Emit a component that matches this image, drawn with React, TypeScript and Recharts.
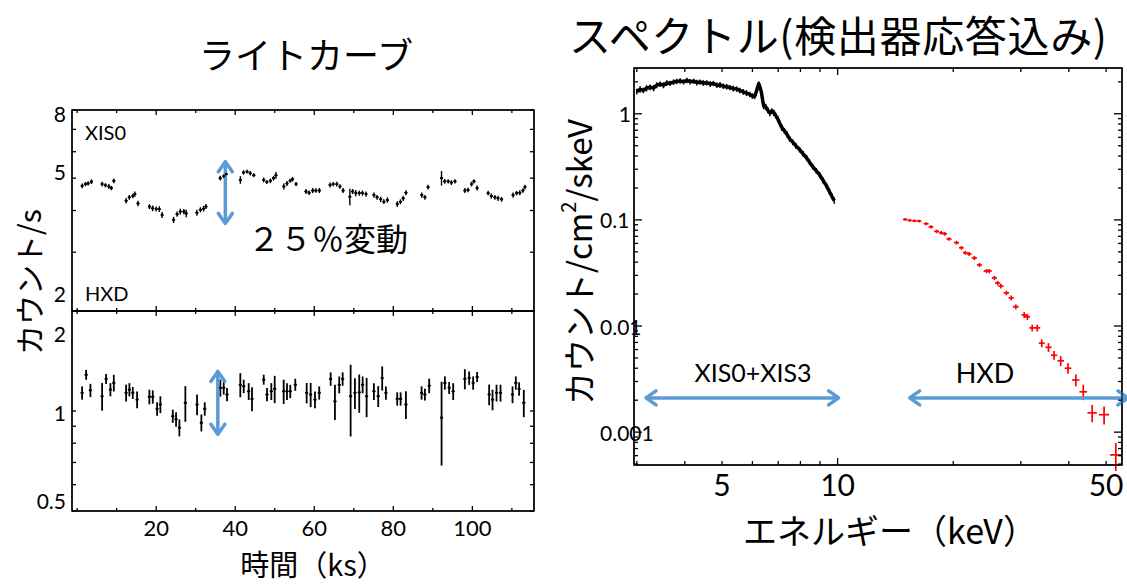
import React from 'react';
import { ComposedChart, Scatter, Line, XAxis, YAxis, ErrorBar, ReferenceLine, ReferenceArea } from 'recharts';

const LATIN = 'Lato, "Liberation Sans", sans-serif';
const CJK = '"Noto Sans CJK JP", "Noto Sans", sans-serif';
const BLUE = '#5b9bd5';

// ---------------- Light curve : XIS0 (counts/s) ----------------
const xisTime = [1.26, 2.1, 2.78, 3.62, 6.32, 7.16, 8.02, 8.67, 9.28, 12.4, 13.2, 14.1, 14.6, 15.4, 18.3, 19.1, 20.0, 20.8, 21.5, 24.4, 25.3, 26.1, 27.0, 27.6, 30.3, 31.2, 32.0, 32.6, 36.2, 37.1, 37.7, 41.3, 42.1, 43.0, 43.8, 44.7, 47.2, 48.0, 48.9, 49.7, 50.3, 52.3, 53.1, 53.9, 54.5, 55.4, 57.9, 58.7, 59.6, 60.4, 61.3, 64.0, 64.8, 65.7, 66.5, 67.3, 69.0, 69.7, 70.5, 71.4, 72.2, 73.1, 75.1, 75.9, 76.8, 77.6, 78.5, 81.0, 81.8, 82.5, 83.2, 87.2, 88.0, 88.8, 92.2, 93.0, 93.9, 94.7, 95.6, 98.1, 98.9, 99.8, 100.4, 101.2, 104.0, 104.8, 105.7, 106.5, 107.4, 110.3, 111.2, 112.0, 112.8, 113.3];
const xisRate = [4.74, 4.8, 4.82, 4.88, 4.8, 4.76, 4.72, 4.67, 4.91, 4.28, 4.38, 4.42, 4.48, 4.2, 4.11, 4.06, 4.04, 4.04, 3.88, 3.75, 3.9, 3.97, 3.97, 3.92, 3.94, 4.02, 4.05, 4.11, 5.0, 5.07, 5.14, 4.94, 5.2, 5.23, 5.17, 5.1, 4.94, 4.87, 4.91, 5.0, 5.1, 4.72, 4.82, 4.91, 4.96, 4.8, 4.56, 4.52, 4.59, 4.59, 4.59, 4.77, 4.8, 4.8, 4.72, 4.59, 4.4, 4.56, 4.51, 4.51, 4.51, 4.48, 4.45, 4.38, 4.32, 4.25, 4.3, 4.18, 4.25, 4.35, 4.52, 4.45, 4.38, 4.7, 5.0, 4.89, 4.89, 4.85, 4.89, 4.59, 4.61, 4.8, 4.89, 4.67, 4.51, 4.42, 4.38, 4.35, 4.32, 4.45, 4.51, 4.52, 4.59, 4.7];
const xisRateErr = [0.08, 0.07, 0.07, 0.08, 0.08, 0.07, 0.08, 0.07, 0.08, 0.08, 0.07, 0.07, 0.08, 0.08, 0.07, 0.08, 0.07, 0.08, 0.08, 0.08, 0.07, 0.08, 0.07, 0.1, 0.08, 0.07, 0.08, 0.07, 0.08, 0.07, 0.08, 0.13, 0.08, 0.07, 0.08, 0.07, 0.08, 0.07, 0.08, 0.08, 0.12, 0.1, 0.08, 0.07, 0.08, 0.07, 0.08, 0.07, 0.08, 0.07, 0.08, 0.08, 0.07, 0.08, 0.07, 0.08, 0.25, 0.08, 0.1, 0.08, 0.08, 0.08, 0.08, 0.07, 0.08, 0.07, 0.08, 0.08, 0.07, 0.08, 0.08, 0.08, 0.07, 0.08, 0.25, 0.08, 0.07, 0.08, 0.07, 0.08, 0.07, 0.08, 0.07, 0.08, 0.07, 0.08, 0.07, 0.08, 0.07, 0.08, 0.07, 0.08, 0.07, 0.08];
const xisBinHalf = [0.4];

// ---------------- Light curve : HXD (counts/s) ----------------
const hxdTime = [1.26, 2.28, 3.36, 6.32, 7.33, 8.42, 9.28, 12.39, 13.22, 14.08, 15.17, 18.28, 19.14, 20.23, 21.06, 24.2, 25.03, 25.87, 27.38, 30.34, 31.43, 32.29, 36.23, 37.09, 37.93, 41.29, 42.15, 43.41, 44.25, 47.21, 48.04, 49.13, 49.99, 52.26, 53.1, 53.93, 55.2, 58.08, 59.09, 60.18, 61.26, 64.15, 65.23, 66.32, 67.18, 69.2, 70.29, 71.38, 72.24, 73.25, 75.09, 76.18, 77.19, 78.13, 80.99, 81.85, 83.19, 87.16, 87.99, 89.08, 92.21, 93.05, 94.13, 95.15, 98.1, 99.19, 100.2, 101.21, 104.25, 105.11, 106.12, 107.13, 110.17, 111.0, 111.83, 113.02];
const hxdRate = [1.134, 1.286, 1.154, 1.108, 1.249, 1.16, 1.215, 1.134, 1.16, 1.134, 1.082, 1.103, 1.103, 1.015, 1.046, 0.965, 0.944, 0.891, 1.058, 1.046, 0.922, 1.015, 1.174, 1.174, 1.121, 1.2, 1.187, 1.146, 1.088, 1.243, 1.121, 1.146, 1.166, 1.146, 1.146, 1.146, 1.2, 1.134, 1.121, 1.082, 1.134, 1.249, 1.07, 1.2, 1.249, 1.108, 1.134, 1.138, 1.2, 1.108, 1.146, 1.108, 1.257, 1.134, 1.088, 1.088, 1.046, 1.134, 1.121, 1.192, 0.955, 1.215, 1.174, 1.146, 1.249, 1.257, 1.215, 1.266, 1.121, 1.082, 1.134, 1.134, 1.121, 1.215, 1.166, 1.058];
const hxdRateErr = [0.052, 0.044, 0.053, 0.106, 0.043, 0.053, 0.07, 0.066, 0.053, 0.047, 0.063, 0.056, 0.051, 0.047, 0.061, 0.044, 0.048, 0.052, 0.13, 0.075, 0.054, 0.047, 0.069, 0.054, 0.052, 0.1, 0.055, 0.067, 0.09, 0.043, 0.052, 0.067, 0.11, 0.096, 0.067, 0.053, 0.05, 0.08, 0.094, 0.063, 0.052, 0.058, 0.13, 0.07, 0.058, 0.27, 0.12, 0.15, 0.07, 0.15, 0.067, 0.08, 0.105, 0.052, 0.05, 0.05, 0.1, 0.052, 0.046, 0.06, 0.27, 0.056, 0.049, 0.067, 0.087, 0.058, 0.056, 0.044, 0.08, 0.077, 0.066, 0.066, 0.065, 0.056, 0.054, 0.1];
const hxdBinHalf = [0.4];

// light-curve ticks
const lcTimeTicks = [0, 10, 20, 30, 40, 50, 60, 70, 80, 90, 100, 110];
const lcTimeLabels = [20, 40, 60, 80, 100];
const xisRateTicks = [2, 3, 4, 5, 6, 7, 8];
const xisRateLabels = [8, 5, 2];
const hxdRateTicks = [0.5, 0.6, 0.7, 0.8, 0.9, 1, 2];
const hxdRateLabels = [2, 1, 0.5];

// ---------------- Spectrum ----------------
const xisSpecEnergy = [3.0, 3.06, 3.12, 3.18, 3.25, 3.32, 3.38, 3.45, 3.52, 3.59, 3.66, 3.74, 3.81, 3.89, 3.97, 4.05, 4.13, 4.22, 4.3, 4.38, 4.47, 4.56, 4.66, 4.75, 4.85, 4.94, 5.04, 5.14, 5.24, 5.35, 5.46, 5.56, 5.68, 5.79, 5.91, 6.0, 6.08, 6.13, 6.18, 6.23, 6.28, 6.33, 6.38, 6.42, 6.5, 6.58, 6.66, 6.74, 6.82, 6.9, 6.98, 7.07, 7.16, 7.27, 7.38, 7.5, 7.64, 7.78, 7.96, 8.13, 8.3, 8.45, 8.61, 8.8, 8.98, 9.17, 9.36, 9.52, 9.65, 9.8];
const xisSpecFlux = [1.62, 1.7, 1.66, 1.74, 1.78, 1.75, 1.86, 1.9, 1.86, 1.95, 1.94, 1.99, 2.02, 2.04, 2.0, 2.06, 2.01, 2.03, 1.97, 1.99, 1.95, 1.96, 1.91, 1.93, 1.86, 1.87, 1.82, 1.8, 1.77, 1.73, 1.71, 1.66, 1.61, 1.57, 1.52, 1.47, 1.46, 1.58, 1.75, 1.92, 1.78, 1.6, 1.34, 1.18, 1.16, 1.08, 1.02, 1.06, 1.03, 0.96, 0.9, 0.81, 0.74, 0.69, 0.64, 0.58, 0.54, 0.5, 0.46, 0.42, 0.385, 0.35, 0.318, 0.29, 0.265, 0.235, 0.208, 0.185, 0.168, 0.152];
const xisSpecFluxErr = [0.1, 0.12, 0.1, 0.12, 0.11, 0.12, 0.12, 0.11, 0.12, 0.12, 0.11, 0.12, 0.12, 0.12, 0.11, 0.12, 0.12, 0.11, 0.12, 0.11, 0.12, 0.11, 0.12, 0.11, 0.11, 0.12, 0.11, 0.11, 0.1, 0.11, 0.1, 0.1, 0.1, 0.1, 0.09, 0.09, 0.09, 0.1, 0.1, 0.1, 0.1, 0.09, 0.08, 0.08, 0.08, 0.07, 0.07, 0.07, 0.07, 0.06, 0.06, 0.05, 0.05, 0.045, 0.04, 0.036, 0.034, 0.031, 0.028, 0.026, 0.024, 0.022, 0.02, 0.018, 0.017, 0.015, 0.013, 0.012, 0.011, 0.01];

const hxdSpecEnergy = [15.0, 15.4, 15.85, 16.3, 17.0, 17.5, 18.1, 18.6, 19.0, 19.5, 20.4, 21.0, 21.5, 22.0, 22.7, 23.4, 24.4, 24.8, 25.6, 26.1, 26.6, 27.5, 28.3, 29.1, 30.6, 31.2, 32.1, 33.1, 34.0, 35.4, 36.6, 38.1, 39.8, 41.7, 43.6, 46.0, 49.4, 53.0];
const hxdSpecFlux = [0.101, 0.099, 0.098, 0.0975, 0.092, 0.086, 0.078, 0.0756, 0.074, 0.066, 0.061, 0.0546, 0.049, 0.0478, 0.0438, 0.0376, 0.033, 0.033, 0.0284, 0.0254, 0.0238, 0.0205, 0.0184, 0.0152, 0.0127, 0.0122, 0.0096, 0.0096, 0.0069, 0.0063, 0.0053, 0.0047, 0.004, 0.0031, 0.0024, 0.00152, 0.00146, 0.00061];
const hxdSpecEnergyErr = [0.2, 0.2, 0.22, 0.22, 0.25, 0.25, 0.26, 0.26, 0.27, 0.3, 0.3, 0.3, 0.3, 0.32, 0.35, 0.35, 0.4, 0.4, 0.4, 0.4, 0.42, 0.45, 0.45, 0.5, 0.5, 0.5, 0.55, 0.6, 0.6, 0.65, 0.7, 0.75, 0.8, 0.9, 1.0, 1.3, 1.5, 1.8];
const hxdSpecFluxErr = [0.003, 0.003, 0.003, 0.003, 0.003, 0.003, 0.003, 0.003, 0.003, 0.0025, 0.0025, 0.0022, 0.002, 0.002, 0.002, 0.0016, 0.0015, 0.0015, 0.0013, 0.0012, 0.0012, 0.001, 0.001, 0.0008, 0.0008, 0.0008, 0.0007, 0.0007, 0.0006, 0.0006, 0.0005, 0.0005, 0.00045, 0.0004, 0.0004, 0.00028, 0.00028, 0.00018];

const specEnergyTicks = [3, 4, 5, 6, 7, 8, 9, 10, 20, 30, 40, 50];
const specEnergyLabels = [5, 10, 50];
const specEnergyMajor = [10];
const specFluxTicks = [0.0005, 0.0006, 0.0007, 0.0008, 0.0009, 0.001, 0.002, 0.003, 0.004, 0.005, 0.006, 0.007, 0.008, 0.009, 0.01, 0.02, 0.03, 0.04, 0.05, 0.06, 0.07, 0.08, 0.09, 0.1, 0.2, 0.3, 0.4, 0.5, 0.6, 0.7, 0.8, 0.9, 1, 2];
const specFluxLabels = [1, 0.1, 0.01, 0.001];

// ---------------- tables for the library ----------------
const xisData = xisTime.map((t, i) => ({ t, v: xisRate[i], e: xisRateErr[i], xe: xisBinHalf[0] }));
const hxdData = hxdTime.map((t, i) => ({ t, v: hxdRate[i], e: hxdRateErr[i], xe: hxdBinHalf[0] }));
const xisSpec = xisSpecEnergy.map((e, i) => ({ e, v: xisSpecFlux[i], ye: xisSpecFluxErr[i] }));
const hxdSpec = hxdSpecEnergy.map((e, i) => ({ e, v: hxdSpecFlux[i], xe: hxdSpecEnergyErr[i], ye: hxdSpecFluxErr[i] }));

// ---------------- helpers ----------------
const inList = (v: number, list?: number[]) => !!list && list.some((b) => Math.abs(v - b) <= Math.abs(b) * 1e-6);

type Side = 'left' | 'right' | 'top' | 'bottom';
interface TickOpts {
  side: Side;
  labels?: number[];
  major?: number[];
  majorLen: number;
  minorLen: number;
  fontSize?: number;
  gap?: number;
  shift?: (v: number) => { dx?: number; dy?: number; anchor?: string };
}

function makeTick(o: TickOpts) {
  return (props: any) => {
    const { x, y, payload } = props;
    const v = Number(payload.value);
    const len = inList(v, o.major ?? o.labels) ? o.majorLen : o.minorLen;
    let x2 = x;
    let y2 = y;
    if (o.side === 'left') x2 = x + len;
    else if (o.side === 'right') x2 = x - len;
    else if (o.side === 'top') y2 = y + len;
    else y2 = y - len;
    const show = inList(v, o.labels);
    const g = o.gap ?? 6;
    let tx = x;
    let ty = y;
    let anchor = 'middle';
    if (o.side === 'left') {
      tx = x - g;
      anchor = 'end';
    } else if (o.side === 'bottom') {
      ty = y + g;
    }
    const s = o.shift ? o.shift(v) : {};
    return (
      <g>
        <line x1={x} y1={y} x2={x2} y2={y2} stroke="#000" strokeWidth={1.3} />
        {show && (
          <text
            x={tx + (s.dx ?? 0)}
            y={ty + (s.dy ?? 0)}
            textAnchor={(s.anchor ?? anchor) as any}
            dominantBaseline="central"
            fontFamily={LATIN}
            fontSize={o.fontSize ?? 20}
            fill="#000"
          >
            {String(v)}
          </text>
        )}
      </g>
    );
  };
}

const DoubleArrow = (p: any) => {
  const { x1, y1, x2, y2 } = p;
  const dx = x2 - x1;
  const dy = y2 - y1;
  const L = Math.hypot(dx, dy) || 1;
  const ux = dx / L;
  const uy = dy / L;
  const nx = -uy;
  const ny = ux;
  const h = 10;
  const w = 7;
  const head = (tx: number, ty: number, sx: number, sy: number) =>
    `${tx + sx * h + nx * w},${ty + sy * h + ny * w} ${tx},${ty} ${tx + sx * h - nx * w},${ty + sy * h - ny * w}`;
  return (
    <g>
      <line x1={x1 + ux * 1.5} y1={y1 + uy * 1.5} x2={x2 - ux * 1.5} y2={y2 - uy * 1.5} stroke={BLUE} strokeWidth={3.5} />
      <polyline points={head(x1, y1, ux, uy)} fill="none" stroke={BLUE} strokeWidth={3.5} strokeLinecap="round" strokeLinejoin="round" />
      <polyline points={head(x2, y2, -ux, -uy)} fill="none" stroke={BLUE} strokeWidth={3.5} strokeLinecap="round" strokeLinejoin="round" />
    </g>
  );
};

const SmallDot = (p: any) => <circle cx={p.cx} cy={p.cy} r={1.3} fill="#000" />;
const NoDot = () => <g />;

const lcXDomain: [number, number] = [-1.3, 115.6];
const xisYDomain: [number, number] = [2, 8];
const hxdYDomain: [number, number] = [0.5, 2];
const specXDomain: [number, number] = [2.95, 55];
const specYDomain: [number, number] = [0.00049, 2.7];
const axisCommon = { tickSize: 0, tickMargin: 0, tickLine: false, interval: 0 as const, stroke: '#000', allowDataOverflow: true };

const lcTickTopPanelLeft = makeTick({
  side: 'left', labels: xisRateLabels, majorLen: 4, minorLen: 4, fontSize: 21, gap: 6,
  shift: (v) => (v === 8 ? { dy: 3 } : v === 5 ? { dy: -7 } : { dy: -18 }),
});
const lcTickBotPanelLeft = makeTick({
  side: 'left', labels: hxdRateLabels, majorLen: 4, minorLen: 4, fontSize: 21, gap: 6,
  shift: (v) => (v === 2 ? { dy: 22 } : v === 1 ? { dy: 1 } : { dy: -11 }),
});
const lcTickRight = makeTick({ side: 'right', majorLen: 4, minorLen: 4 });
const lcTickTop = makeTick({ side: 'top', major: lcTimeLabels, majorLen: 5, minorLen: 3 });
const lcTickBottomNoLabel = makeTick({ side: 'bottom', major: lcTimeLabels, majorLen: 5, minorLen: 3 });
const lcTickBottom = makeTick({ side: 'bottom', labels: lcTimeLabels, majorLen: 5, minorLen: 3, fontSize: 22, gap: 16 });

const spTickLeft = makeTick({
  side: 'left', labels: specFluxLabels, majorLen: 8, minorLen: 4, fontSize: 21, gap: 3,
  shift: (v) => (v === 1 ? {} : { anchor: 'start', dx: -31 }),
});
const spTickRight = makeTick({ side: 'right', major: specFluxLabels, majorLen: 8, minorLen: 4 });
const spTickBottom = makeTick({ side: 'bottom', labels: specEnergyLabels, major: specEnergyMajor, majorLen: 7, minorLen: 4, fontSize: 30, gap: 19 });
const spTickTop = makeTick({ side: 'top', major: specEnergyMajor, majorLen: 7, minorLen: 4 });

const frameProps = { fill: 'none', fillOpacity: 0, stroke: '#000', strokeWidth: 1.5, ifOverflow: 'visible' as const };

export default function App() {
  return (
    <div style={{ position: 'fixed', left: 0, top: 0, width: 1127, height: 585, overflow: 'hidden', background: '#fff' }}>
      {/* XIS0 light curve */}
      <div style={{ position: 'absolute', left: 0, top: 100 }}>
        <ComposedChart width={560} height={220} margin={{ top: 9, right: 16, bottom: 8, left: 12 }}>
          <XAxis xAxisId={0} dataKey="t" type="number" domain={lcXDomain} ticks={lcTimeTicks} height={1} orientation="bottom" tick={lcTickBottomNoLabel} {...axisCommon} />
          <XAxis xAxisId="top" dataKey="t" type="number" domain={lcXDomain} ticks={lcTimeTicks} height={1} orientation="top" tick={lcTickTop} {...axisCommon} />
          <YAxis yAxisId={0} dataKey="v" type="number" scale="log" domain={xisYDomain} ticks={xisRateTicks} width={60} tick={lcTickTopPanelLeft} {...axisCommon} />
          <YAxis yAxisId="right" dataKey="v" type="number" scale="log" domain={xisYDomain} ticks={xisRateTicks} width={10} orientation="right" tick={lcTickRight} {...axisCommon} />
          <ReferenceArea xAxisId={0} yAxisId={0} x1={lcXDomain[0]} x2={lcXDomain[1]} y1={xisYDomain[0]} y2={xisYDomain[1]} {...frameProps} />
          <Scatter data={xisData} xAxisId={0} yAxisId={0} shape={SmallDot} isAnimationActive={false}>
            <ErrorBar dataKey="e" direction="y" width={0} stroke="#000" strokeWidth={1.4} isAnimationActive={false} />
            <ErrorBar dataKey="xe" direction="x" width={0} stroke="#000" strokeWidth={1.4} isAnimationActive={false} />
          </Scatter>
          <ReferenceLine xAxisId={0} yAxisId={0} segment={[{ x: 37.5, y: 5.6 }, { x: 37.5, y: 3.66 }]} shape={DoubleArrow} ifOverflow="visible" />
        </ComposedChart>
      </div>

      {/* HXD light curve */}
      <div style={{ position: 'absolute', left: 0, top: 300 }}>
        <ComposedChart width={560} height={285} margin={{ top: 10, right: 16, bottom: 14, left: 12 }}>
          <XAxis xAxisId={0} dataKey="t" type="number" domain={lcXDomain} ticks={lcTimeTicks} height={60} orientation="bottom" tick={lcTickBottom} {...axisCommon} />
          <XAxis xAxisId="top" dataKey="t" type="number" domain={lcXDomain} ticks={lcTimeTicks} height={1} orientation="top" tick={lcTickTop} {...axisCommon} />
          <YAxis yAxisId={0} dataKey="v" type="number" scale="log" domain={hxdYDomain} ticks={hxdRateTicks} width={60} tick={lcTickBotPanelLeft} {...axisCommon} />
          <YAxis yAxisId="right" dataKey="v" type="number" scale="log" domain={hxdYDomain} ticks={hxdRateTicks} width={10} orientation="right" tick={lcTickRight} {...axisCommon} />
          <ReferenceArea xAxisId={0} yAxisId={0} x1={lcXDomain[0]} x2={lcXDomain[1]} y1={hxdYDomain[0]} y2={hxdYDomain[1]} {...frameProps} />
          <Scatter data={hxdData} xAxisId={0} yAxisId={0} shape={SmallDot} isAnimationActive={false}>
            <ErrorBar dataKey="e" direction="y" width={0} stroke="#000" strokeWidth={1.8} isAnimationActive={false} />
            <ErrorBar dataKey="xe" direction="x" width={0} stroke="#000" strokeWidth={1.4} isAnimationActive={false} />
          </Scatter>
          <ReferenceLine xAxisId={0} yAxisId={0} segment={[{ x: 35.6, y: 1.316 }, { x: 35.6, y: 0.851 }]} shape={DoubleArrow} ifOverflow="visible" />
        </ComposedChart>
      </div>

      {/* Spectrum */}
      <div style={{ position: 'absolute', left: 560, top: 50 }}>
        <ComposedChart width={567} height={535} margin={{ top: 17, right: 0, bottom: 60, left: 14 }}>
          <XAxis xAxisId={0} dataKey="e" type="number" scale="log" domain={specXDomain} ticks={specEnergyTicks} height={60} orientation="bottom" tick={spTickBottom} {...axisCommon} />
          <XAxis xAxisId="top" dataKey="e" type="number" scale="log" domain={specXDomain} ticks={specEnergyTicks} height={1} orientation="top" tick={spTickTop} {...axisCommon} />
          <YAxis yAxisId={0} dataKey="v" type="number" scale="log" domain={specYDomain} ticks={specFluxTicks} width={60} tick={spTickLeft} {...axisCommon} />
          <YAxis yAxisId="right" dataKey="v" type="number" scale="log" domain={specYDomain} ticks={specFluxTicks} width={5} orientation="right" tick={spTickRight} {...axisCommon} />
          <ReferenceArea xAxisId={0} yAxisId={0} x1={specXDomain[0]} x2={specXDomain[1]} y1={specYDomain[0]} y2={specYDomain[1]} {...frameProps} />
          <Line data={xisSpec} xAxisId={0} yAxisId={0} dataKey="v" type="linear" dot={false} stroke="#000" strokeWidth={3.5} strokeLinejoin="round" isAnimationActive={false}>
            <ErrorBar dataKey="ye" direction="y" width={0} stroke="#000" strokeWidth={1.5} isAnimationActive={false} />
          </Line>
          <Scatter data={hxdSpec} xAxisId={0} yAxisId={0} shape={NoDot} isAnimationActive={false}>
            <ErrorBar dataKey="ye" direction="y" width={0} stroke="#ff0000" strokeWidth={1.7} isAnimationActive={false} />
            <ErrorBar dataKey="xe" direction="x" width={0} stroke="#ff0000" strokeWidth={1.7} isAnimationActive={false} />
          </Scatter>
          <ReferenceLine xAxisId={0} yAxisId={0} segment={[{ x: 3.17, y: 0.0021 }, { x: 10.06, y: 0.0021 }]} shape={DoubleArrow} ifOverflow="visible" />
          <ReferenceLine xAxisId={0} yAxisId={0} segment={[{ x: 15.4, y: 0.0021 }, { x: 57, y: 0.0021 }]} shape={DoubleArrow} ifOverflow="visible" />
        </ComposedChart>
      </div>

      {/* titles and labels */}
      <svg width={1127} height={585} style={{ position: 'absolute', left: 0, top: 0, pointerEvents: 'none' }}>
        <text x={306} y={53} textAnchor="middle" dominantBaseline="central" fontFamily={CJK} fontSize={36} fill="#000">ライトカーブ</text>
        <text x={569} y={33} dominantBaseline="central" fontFamily={CJK} fontSize={42} textLength={538} lengthAdjust="spacing" fill="#000">スペクトル(検出器応答込み)</text>
        <text x={313} y={563} textAnchor="middle" dominantBaseline="central" fontFamily={CJK} fontSize={29} fill="#000">時間（ks）</text>
        <text transform="translate(28,282) rotate(-90)" textAnchor="middle" dominantBaseline="central" fontFamily={CJK} fontSize={30} fill="#000">カウント/s</text>
        <text x={890} y={529} textAnchor="middle" dominantBaseline="central" fontFamily={CJK} fontSize={34} fill="#000">エネルギー（keV）</text>
        <text transform="translate(578,262) rotate(-90)" textAnchor="middle" dominantBaseline="central" fontFamily={CJK} fontSize={33} fill="#000">
          カウント/cm<tspan dy={-11} fontSize={20}>2</tspan><tspan dy={11}>/skeV</tspan>
        </text>
        <text x={85} y={132} dominantBaseline="central" fontFamily={LATIN} fontSize={20} fill="#000">XIS0</text>
        <text x={85} y={293} dominantBaseline="central" fontFamily={LATIN} fontSize={20} fill="#000">HXD</text>
        <text x={248} y={237} dominantBaseline="central" fontFamily={CJK} fontSize={32} fill="#000">２５％変動</text>
        <text x={753} y={372} textAnchor="middle" dominantBaseline="central" fontFamily={LATIN} fontSize={25} fill="#000">XIS0+XIS3</text>
        <text x={985} y={372} textAnchor="middle" dominantBaseline="central" fontFamily={LATIN} fontSize={27} fill="#000">HXD</text>
      </svg>
    </div>
  );
}
